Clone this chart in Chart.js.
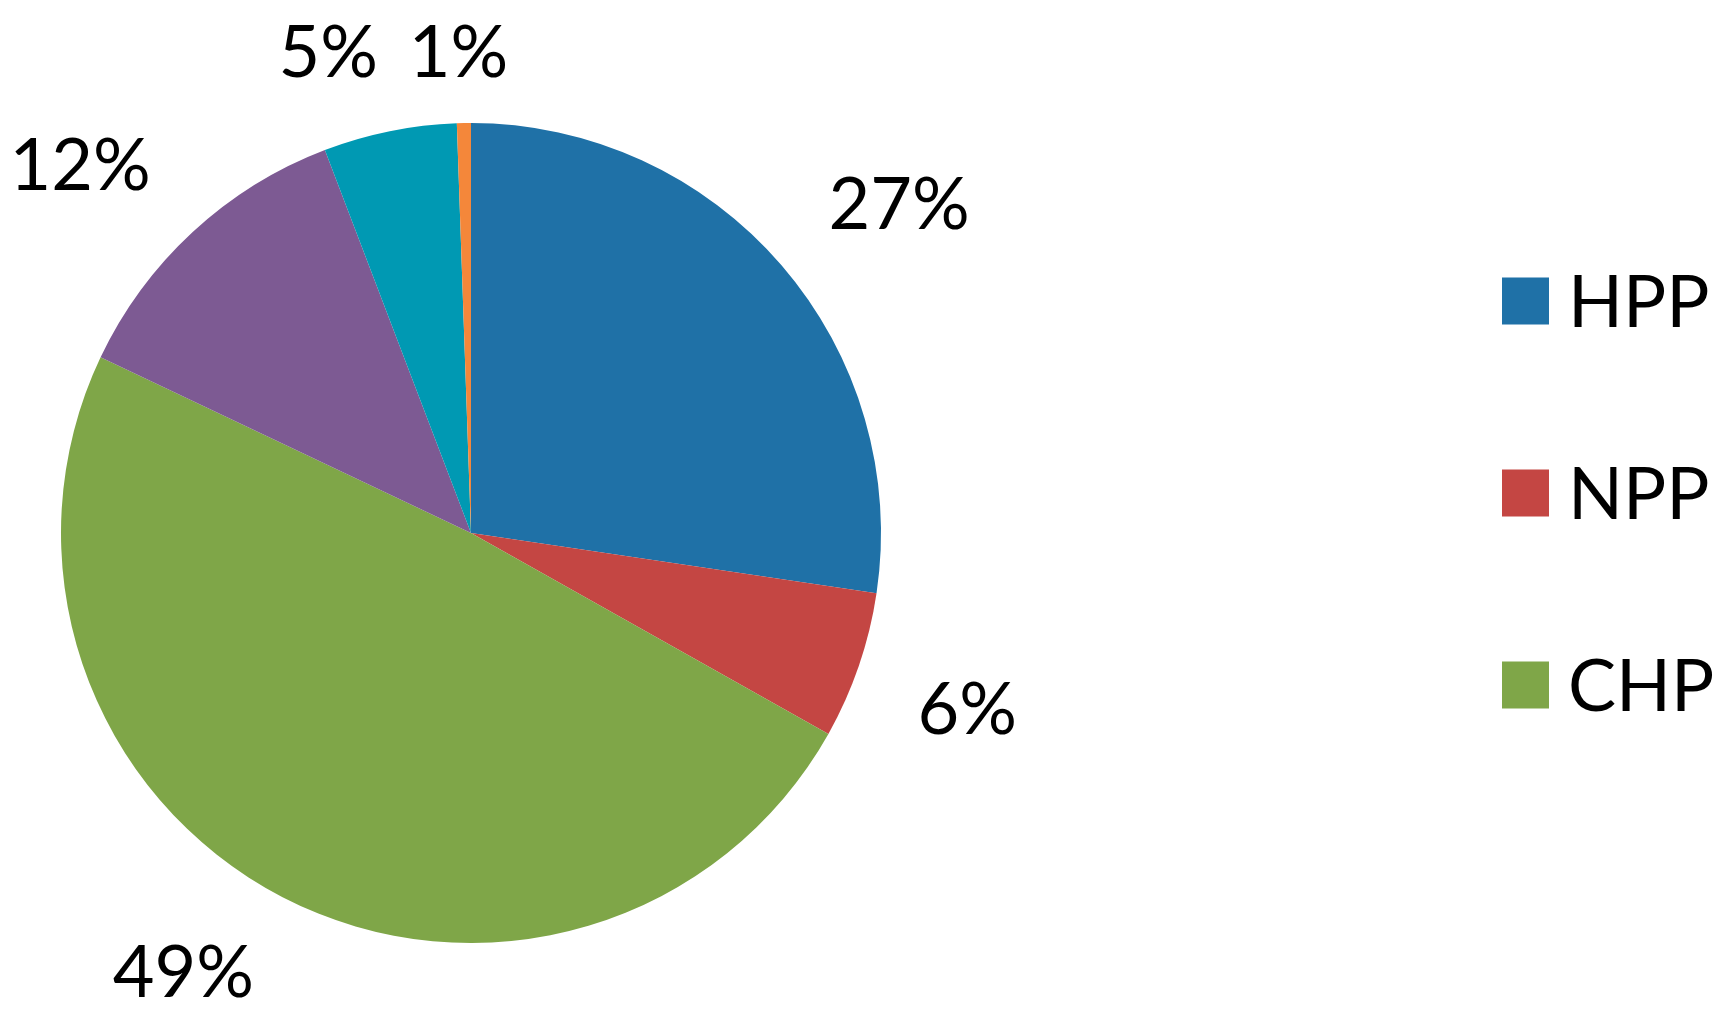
<!DOCTYPE html>
<html>
<head>
<meta charset="utf-8">
<script src="https://cdn.jsdelivr.net/npm/chart.js@4/dist/chart.umd.min.js"></script>
<style>
  html, body { margin:0; padding:0; background:#fff; }
  #wrap { width:1724px; height:1021px; }
</style>
</head>
<body>
<div id="wrap"><canvas id="grafico" width="1724" height="1021"></canvas></div>
<script>
/* =================== Dados =================== */
const categorias = ["HPP", "NPP", "CHP", "TPP", "WPP", "SPP"];
const valores = [27.35, 5.8, 48.9, 12.15, 5.25, 0.55];
const cores = ["#1F71A7", "#C44643", "#7FA648", "#7D5A93", "#0099B3", "#F4873A"];
const legendaVisivel = 3; // só os três primeiros aparecem na legenda

const FONTE = "Lato, 'Open Sans', sans-serif";
const TAM = 72;

// sinal "suave": perto do eixo o rótulo fica centrado
const suave = (t) => Math.sign(t) * Math.min(1, Math.abs(t)/0.2);

/* --------------- Rótulos fora da fatia --------------- */
const rotulosFora = {
  id: "rotulosFora",
  afterDatasetsDraw(chart){
    const ctx = chart.ctx;
    const meta = chart.getDatasetMeta(0);
    const total = valores.reduce((a,b)=>a+b, 0);
    ctx.save();
    ctx.font = `${TAM}px ${FONTE}`;
    ctx.fillStyle = "#000";
    ctx.textAlign = "center";
    ctx.textBaseline = "alphabetic";
    const cap = TAM*0.72;
    const topo = 25 + cap/2, fundo = chart.height - 24 - cap/2;

    // âncora logo fora do arco; a caixa do texto cresce para fora
    const rot = meta.data.map((arc, i)=>{
      const txt = Math.round(valores[i]/total*100) + "%";
      const meio = (arc.startAngle + arc.endAngle)/2;
      const dx = Math.cos(meio), dy = Math.sin(meio);
      const w = ctx.measureText(txt).width;
      const d = arc.outerRadius + 62;
      let x = arc.x + dx*d + suave(dx)*w/2;
      let y = arc.y + dy*d + suave(dy)*22;
      y = Math.min(fundo, Math.max(topo, y));
      return {txt, x, y, w};
    });

    // empurra para o lado os que se sobrepõem
    for(let i=rot.length-2;i>=0;i--){
      for(let j=i+1;j<rot.length;j++){
        const a = rot[i], b = rot[j];
        const sobV = Math.abs(a.y-b.y) < cap*1.2;
        const dist = Math.abs(a.x-b.x), min = (a.w+b.w)/2 + 28;
        if(sobV && dist < min){
          a.x += (a.x < b.x ? -1 : 1) * (min - dist);
        }
      }
    }

    rot.forEach(r=> ctx.fillText(r.txt, r.x, r.y + cap/2));
    ctx.restore();
  }
};

/* --------------- Legenda desenhada à mão --------------- */
const legenda = {
  id: "legenda",
  afterDraw(chart){
    const ctx = chart.ctx;
    ctx.save();
    ctx.font = `${TAM}px ${FONTE}`;
    ctx.textAlign = "left";
    ctx.textBaseline = "alphabetic";
    const cap = TAM*0.72;
    for(let i=0;i<legendaVisivel;i++){
      const cy = 301 + i*192;
      ctx.fillStyle = cores[i];
      ctx.fillRect(1502, cy-23.5, 47, 47);
      ctx.fillStyle = "#000";
      ctx.fillText(categorias[i], 1568, cy + cap/2);
    }
    ctx.restore();
  }
};

new Chart(document.getElementById("grafico"), {
  type: "pie",
  data: {
    labels: categorias,
    datasets: [{ data: valores, backgroundColor: cores, borderWidth: 0 }]
  },
  options: {
    responsive: false,
    animation: false,
    layout: { padding: { left:61, right:843, top:123, bottom:78 } },
    plugins: { legend: { display:false }, tooltip: { enabled:false } }
  },
  plugins: [rotulosFora, legenda]
});
</script>
</body>
</html>
